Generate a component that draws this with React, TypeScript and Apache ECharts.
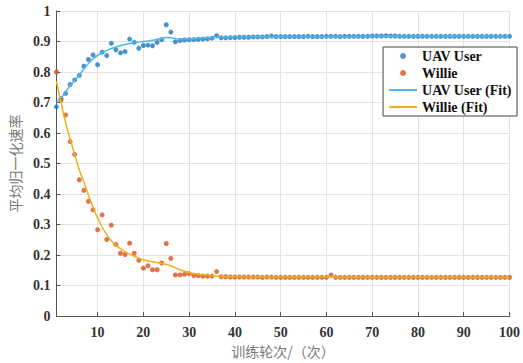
import React, { useEffect, useRef } from "react";
import * as echarts from "echarts";

const xTicks = [10, 20, 30, 40, 50, 60, 70, 80, 90, 100];

const uavValues = [
  0.686, 0.713, 0.73, 0.759, 0.774, 0.789, 0.819, 0.841, 0.856, 0.824,
  0.865, 0.854, 0.894, 0.873, 0.863, 0.867, 0.908, 0.897, 0.878, 0.887,
  0.888, 0.886, 0.897, 0.906, 0.955, 0.931, 0.899, 0.903, 0.905, 0.906,
  0.906, 0.907, 0.908, 0.909, 0.911, 0.919, 0.912, 0.912, 0.913, 0.913,
  0.914, 0.914, 0.914, 0.915, 0.915, 0.915, 0.916, 0.918, 0.916, 0.916,
  0.916, 0.916, 0.916, 0.916, 0.916, 0.917, 0.916, 0.916, 0.916, 0.917,
  0.917, 0.917, 0.916, 0.917, 0.917, 0.917, 0.917, 0.917, 0.917, 0.918,
  0.918, 0.918, 0.919, 0.918, 0.918, 0.917, 0.917, 0.917, 0.917, 0.917,
  0.917, 0.917, 0.917, 0.917, 0.917, 0.917, 0.917, 0.917, 0.917, 0.917,
  0.917, 0.917, 0.917, 0.917, 0.917, 0.917, 0.917, 0.917, 0.917, 0.917,
];

const willieValues = [
  0.8, 0.708, 0.659, 0.572, 0.53, 0.447, 0.412, 0.376, 0.348, 0.283,
  0.332, 0.251, 0.298, 0.235, 0.206, 0.202, 0.239, 0.206, 0.183, 0.157,
  0.165, 0.152, 0.152, 0.174, 0.238, 0.189, 0.135, 0.135, 0.137, 0.139,
  0.133, 0.133, 0.131, 0.131, 0.131, 0.146, 0.129, 0.129, 0.128, 0.128,
  0.128, 0.128, 0.128, 0.128, 0.128, 0.127, 0.128, 0.128, 0.127, 0.127,
  0.127, 0.127, 0.127, 0.127, 0.127, 0.127, 0.127, 0.127, 0.127, 0.127,
  0.135, 0.127, 0.127, 0.127, 0.127, 0.127, 0.127, 0.127, 0.127, 0.127,
  0.127, 0.127, 0.127, 0.127, 0.127, 0.127, 0.127, 0.127, 0.127, 0.127,
  0.127, 0.127, 0.127, 0.127, 0.127, 0.127, 0.127, 0.127, 0.127, 0.127,
  0.127, 0.127, 0.127, 0.127, 0.127, 0.127, 0.127, 0.127, 0.127, 0.127,
];

const uavFitX = [1, 2, 3, 4, 5, 6, 7, 8, 9, 10, 12, 14, 16, 18, 20, 22, 24, 25, 26, 28, 30, 35, 40, 50, 60, 70, 80, 90, 100];
const uavFitY = [0.70, 0.715, 0.735, 0.755, 0.772, 0.79, 0.81, 0.828, 0.843, 0.855, 0.871, 0.882, 0.89, 0.896, 0.9, 0.904, 0.911, 0.913, 0.912, 0.908, 0.909, 0.913, 0.915, 0.916, 0.916, 0.917, 0.917, 0.917, 0.917];

const willieFitX = [1, 2, 3, 4, 5, 6, 7, 8, 9, 10, 11, 12, 13, 14, 15, 16, 17, 18, 19, 20, 22, 24, 26, 28, 30, 32, 34, 36, 40, 50, 60, 70, 80, 90, 100];
const willieFitY = [0.77, 0.70, 0.635, 0.58, 0.53, 0.48, 0.44, 0.397, 0.357, 0.322, 0.292, 0.267, 0.247, 0.232, 0.221, 0.211, 0.203, 0.196, 0.19, 0.185, 0.178, 0.173, 0.165, 0.152, 0.143, 0.137, 0.134, 0.131, 0.129, 0.128, 0.128, 0.127, 0.127, 0.127, 0.127];

const pairs = (xs: number[], ys: number[]) => xs.map((x, i) => [x, ys[i]]);
const indexed = (ys: number[]) => ys.map((y, i) => [i + 1, y]);

export default function App() {
  const ref = useRef<HTMLDivElement>(null);
  useEffect(() => {
    if (!ref.current) return;
    const chart = echarts.init(ref.current, undefined, { renderer: "svg" });
    const serif = "Times New Roman, Liberation Serif, serif";
    const cjk = "Noto Sans CJK SC";
    chart.setOption({
      animation: false,
      backgroundColor: "#fff",
      grid: { left: 53, right: 11, top: 11, bottom: 44 },
      legend: {
        orient: "vertical",
        right: 6,
        top: 47,
        padding: [2, 5, 2, 5],
        itemGap: 3,
        itemWidth: 28,
        itemHeight: 6,
        borderColor: "#444",
        borderWidth: 1,
        backgroundColor: "#fff",
        textStyle: { fontFamily: serif, fontWeight: "bold", fontSize: 14, color: "#111", lineHeight: 14 },
        data: [
          { name: "UAV User", icon: "circle" },
          { name: "Willie", icon: "circle" },
          { name: "UAV User (Fit)", itemStyle: { opacity: 0 } },
          { name: "Willie (Fit)", itemStyle: { opacity: 0 } },
        ],
      },
      xAxis: {
        type: "value",
        min: 1,
        max: 100,
        name: "训练轮次/（次）",
        nameLocation: "middle",
        nameGap: 26,
        nameTextStyle: { fontFamily: cjk, fontSize: 14, color: "#777", verticalAlign: "top" },
        axisLine: { lineStyle: { color: "#555", width: 1 } },
        axisTick: { inside: true, length: 4, customValues: xTicks, lineStyle: { color: "#555" } },
        axisLabel: { customValues: xTicks, margin: 9, fontFamily: serif, fontWeight: "bold", fontSize: 14, color: "#333" },
        splitLine: { show: true, lineStyle: { color: "#e3e3e3", width: 1 } },
      },
      yAxis: {
        type: "value",
        min: 0,
        max: 1,
        interval: 0.1,
        name: "平均归一化速率",
        nameLocation: "middle",
        nameGap: 28,
        nameTextStyle: { fontFamily: cjk, fontSize: 14, color: "#777" },
        axisLine: { show: true, lineStyle: { color: "#555", width: 1 } },
        axisTick: { show: true, inside: true, length: 4, lineStyle: { color: "#555" } },
        axisLabel: { margin: 6, fontFamily: serif, fontWeight: "bold", fontSize: 14, color: "#333" },
        splitLine: { show: true, lineStyle: { color: "#e3e3e3", width: 1 } },
      },
      series: [
        {
          name: "UAV User",
          type: "scatter",
          data: indexed(uavValues),
          symbolSize: 5,
          itemStyle: { color: "#1f78c1" },
        },
        {
          name: "Willie",
          type: "scatter",
          data: indexed(willieValues),
          symbolSize: 5,
          itemStyle: { color: "#d95319" },
        },
        {
          name: "UAV User (Fit)",
          type: "line",
          data: pairs(uavFitX, uavFitY),
          smooth: 0.3,
          symbol: "none",
          lineStyle: { color: "#4db8ec", width: 1.5 },
          itemStyle: { color: "#4db8ec" },
        },
        {
          name: "Willie (Fit)",
          type: "line",
          data: pairs(willieFitX, willieFitY),
          smooth: 0.3,
          symbol: "none",
          lineStyle: { color: "#edb120", width: 1.5 },
          itemStyle: { color: "#edb120" },
        },
      ],
    });
    return () => chart.dispose();
  }, []);
  return <div ref={ref} style={{ width: 523, height: 363, position: "absolute", left: 0, top: 0 }} />;
}
